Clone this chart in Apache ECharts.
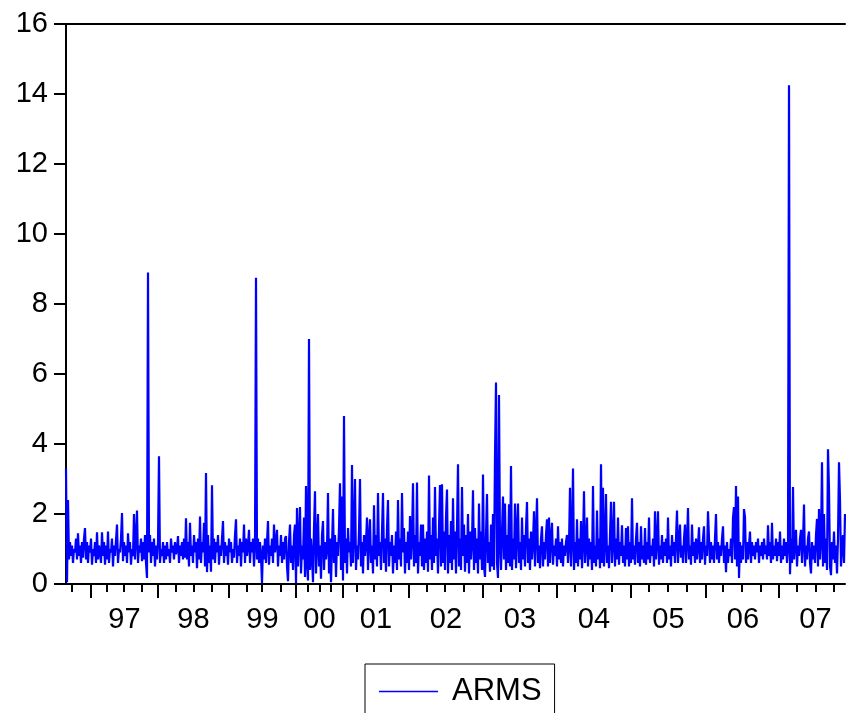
<!DOCTYPE html>
<html>
<head>
<meta charset="utf-8">
<script src="https://cdn.jsdelivr.net/npm/echarts@6/dist/echarts.min.js"></script>
<style>
html,body{margin:0;padding:0;background:#fff;}
#chart{width:846px;height:713px;}
</style>
</head>
<body>
<div id="chart"></div>
<script>
// ARMS series, observation-ordered (one value per plotted step)
const armsValues = [
3.3,0.05,2.4,0.7,1.2,0.8,1.1,0.6,1.0,0.9,1.3,0.7,1.45,0.8,1.1,0.6,1.2,0.75,1.3,1.6,
0.7,1.2,0.6,1.1,0.9,1.3,0.55,1.0,0.8,1.2,0.6,1.48,0.7,1.1,0.9,0.6,1.48,0.8,1.2,0.55,
1.1,0.7,1.5,0.6,1.0,0.9,1.3,0.5,1.1,0.8,1.25,1.7,0.6,1.0,0.9,1.3,2.03,0.65,1.2,0.8,
1.1,0.6,1.45,0.9,1.2,0.55,1.0,0.8,2.0,0.7,1.3,2.1,0.6,1.1,0.9,1.3,0.65,1.2,0.7,1.4,
0.6,0.17,8.9,0.9,1.4,0.6,1.2,0.8,1.3,0.5,1.1,0.7,1.2,3.65,0.6,1.0,0.8,1.2,0.6,1.1,
0.7,1.2,0.8,1.0,0.6,1.3,0.9,1.1,0.7,1.2,0.85,1.0,1.37,0.6,1.1,0.8,1.2,0.7,1.3,0.75,
1.88,0.7,1.2,0.5,1.75,0.8,1.1,0.6,1.4,0.9,1.2,0.45,1.3,0.7,1.93,0.6,1.2,0.9,1.75,0.5,
3.17,0.34,1.4,0.6,1.1,0.35,2.82,0.7,1.3,0.6,1.2,0.9,1.4,0.55,1.1,0.8,1.3,1.8,0.6,1.2,
0.8,1.1,0.55,1.3,0.9,1.2,0.6,1.0,0.75,1.4,1.85,0.6,1.1,0.8,1.3,0.5,1.2,0.9,1.7,0.6,
1.3,0.8,1.1,1.55,0.6,1.2,0.9,1.3,0.5,1.1,8.75,0.7,1.3,0.6,1.2,0.8,0.03,1.1,0.7,1.3,
0.6,1.2,1.8,0.55,1.1,0.8,1.3,0.6,1.7,0.9,1.2,1.55,0.5,1.1,0.8,1.4,0.6,1.2,0.7,1.3,
1.37,0.5,0.08,1.2,1.7,0.6,1.1,0.4,1.4,1.7,0.03,2.17,0.5,1.3,2.2,0.3,1.1,0.7,1.9,0.2,
2.8,0.6,0.1,7.0,0.4,1.3,0.8,0.05,1.6,2.65,0.3,1.2,2.0,0.5,1.1,0.15,1.4,1.8,0.4,1.2,
0.7,1.0,2.6,0.3,1.3,0.05,1.1,2.14,0.6,1.4,0.2,1.2,0.8,1.6,2.88,0.4,2.5,0.1,4.8,0.6,
1.3,0.3,1.6,0.9,1.2,0.5,3.4,0.6,1.4,3.0,0.4,1.1,0.7,1.5,3.0,0.5,1.2,0.3,1.4,0.8,
1.2,1.9,0.4,1.3,1.85,0.6,1.1,0.3,2.25,0.7,1.4,0.5,2.6,0.8,1.2,0.4,1.5,2.6,0.6,1.3,
0.35,1.6,2.4,0.5,1.2,0.8,1.4,0.3,1.1,0.6,1.5,0.4,2.4,0.7,1.3,0.5,2.6,0.9,1.6,0.3,
1.2,0.6,1.5,0.4,1.94,0.7,1.3,2.88,0.5,1.4,0.6,2.9,0.3,1.2,0.8,1.7,0.5,1.7,0.4,1.3,
0.6,1.5,0.35,3.1,0.7,1.4,0.4,1.9,0.6,2.77,0.8,1.3,0.3,1.6,2.83,0.5,2.85,0.6,1.5,0.4,
1.9,2.7,0.3,1.4,0.6,1.8,0.4,2.45,0.7,1.5,0.3,1.6,3.42,0.5,1.3,0.4,2.77,0.8,1.7,0.35,
1.4,0.6,2.0,0.3,1.5,0.7,1.2,2.68,0.4,1.6,0.6,1.3,0.3,2.3,0.7,1.5,0.4,3.13,0.5,0.2,
1.4,2.57,0.6,1.2,0.35,1.7,0.5,2.0,0.4,3.65,5.76,0.6,0.17,5.4,1.1,0.4,1.5,2.5,0.7,2.3,
0.4,1.4,0.6,2.28,0.5,3.37,0.4,1.3,0.7,2.3,0.45,1.5,2.3,0.6,1.2,0.4,1.9,0.7,1.4,0.5,
1.6,2.34,0.6,1.3,0.4,1.5,0.7,1.2,2.08,0.5,1.4,2.45,0.6,1.1,0.45,1.3,1.65,0.5,1.2,0.7,
1.4,1.85,0.5,1.9,0.6,1.3,1.75,0.55,1.1,0.8,1.3,0.5,1.65,0.7,1.2,0.6,1.3,0.5,1.1,0.8,
1.2,1.4,0.6,1.1,2.75,0.5,1.3,3.3,0.4,1.2,0.6,1.85,0.5,1.3,0.7,1.8,0.45,1.2,2.65,0.6,
1.1,1.9,0.5,1.3,0.7,1.2,0.4,2.8,0.6,1.1,0.5,2.1,0.7,1.3,0.45,3.42,0.6,2.75,0.5,1.2,
2.57,0.6,1.1,0.45,1.4,2.35,0.6,1.2,2.35,0.5,1.3,0.7,1.9,0.55,1.2,0.8,1.68,0.6,1.1,0.5,
1.6,0.7,1.65,0.5,1.2,0.6,2.45,0.7,1.1,0.55,1.3,1.75,0.6,1.2,0.5,1.65,0.7,1.1,0.6,1.6,
0.55,1.2,0.7,1.9,0.6,1.1,0.8,1.3,0.5,2.08,0.7,1.2,2.08,0.55,1.1,0.7,1.4,0.6,1.2,0.8,
1.3,0.6,1.9,0.7,1.1,0.5,1.4,0.8,1.2,0.6,1.3,2.1,0.6,1.2,1.7,0.75,1.1,0.6,1.3,1.7,
0.6,1.2,2.17,0.7,1.1,0.55,1.7,0.8,1.2,0.6,1.3,0.7,1.1,1.62,0.6,1.2,0.7,1.3,1.65,0.55,
1.1,0.8,2.08,1.3,0.6,1.2,0.7,1.1,0.6,1.3,2.0,0.7,1.2,0.6,1.1,0.8,1.3,1.65,0.6,1.1,
0.34,1.2,0.6,1.0,0.8,1.3,0.6,1.9,2.2,0.7,2.8,0.5,2.5,0.17,1.2,0.6,1.1,0.7,2.14,1.9,
0.6,1.2,0.7,1.1,1.5,0.6,1.2,0.8,1.1,0.7,1.2,0.9,1.3,0.6,1.1,0.8,1.2,0.7,1.3,0.85,
1.1,0.7,1.68,0.8,1.2,0.6,1.75,0.7,1.1,0.8,1.3,0.65,1.2,0.8,1.5,0.6,1.1,0.7,1.3,0.8,
1.2,0.6,1.0,14.25,0.28,1.3,0.6,2.77,0.7,1.2,1.55,0.5,1.1,0.8,1.3,1.55,0.6,1.2,2.27,0.5,
1.1,0.7,1.3,1.5,0.6,0.3,1.2,0.7,1.1,0.6,1.4,1.86,0.5,2.14,0.7,1.2,3.48,0.5,2.0,0.6,
1.3,0.4,3.85,2.7,0.5,0.25,1.2,0.7,1.5,0.6,1.1,0.3,1.3,3.48,2.4,0.5,1.1,1.4,0.6,2.0
];
// Year boundaries (observation positions) and quarter marks
const yearTickPos = [25,92,163,230,277,343,417,491,565,640,713];
const quarterTickPos = [6,41,58,76,110,128,146,181,196,215,242,254,265,291,308,325,361,379,398,435,454,473,509,527,546,583,602,621,657,676,695,731,750,768];
const yearLabelPos = [58.5,127.5,196.5,253.5,310,380,454,528,602.5,677,749.5];
const yearLabels = ['97','98','99','00','01','02','03','04','05','06','07'];
const yMin = 0, yMax = 16, yStep = 2;
const seriesName = 'ARMS';

const xMax = armsValues.length - 1;
const FONT = "'Liberation Sans', Arial, Helvetica, sans-serif";

const chart = echarts.init(document.getElementById('chart'), null, {renderer: 'canvas'});
chart.setOption({
  animation: false,
  backgroundColor: '#ffffff',
  grid: {left: 66, right: 1, top: 24, bottom: 129, containLabel: false},
  legend: {
    data: [seriesName],
    left: 365, top: 664,
    orient: 'horizontal',
    icon: 'rect',
    itemWidth: 59, itemHeight: 1.5,
    borderColor: '#000', borderWidth: 1,
    padding: [12, 13, 14, 14],
    textStyle: {fontFamily: FONT, fontSize: 31, color: '#000', padding: [0, 0, 0, 9]}
  },
  xAxis: [
    {
      type: 'value', min: 0, max: xMax, position: 'bottom',
      axisLine: {show: true, onZero: false, lineStyle: {color: '#000', width: 2}},
      axisTick: {show: true, customValues: yearTickPos, length: 14, lineStyle: {color: '#000', width: 2}},
      axisLabel: {
        show: true, customValues: yearLabelPos, margin: 21,
        fontFamily: FONT, fontSize: 29, color: '#000',
        formatter: function (v) {
          let best = -1, bd = 1e9;
          yearLabelPos.forEach(function (p, k) { const d = Math.abs(p - v); if (d < bd) { bd = d; best = k; } });
          return bd < 1 ? yearLabels[best] : '';
        }
      },
      splitLine: {show: false}
    },
    {
      type: 'value', min: 0, max: xMax, position: 'bottom',
      axisLine: {show: false, onZero: false},
      axisTick: {show: true, customValues: quarterTickPos, length: 8, lineStyle: {color: '#000', width: 2}},
      axisLabel: {show: false},
      splitLine: {show: false}
    },
    {
      type: 'value', min: 0, max: xMax, position: 'top',
      axisLine: {show: true, onZero: false, lineStyle: {color: '#000', width: 2}},
      axisTick: {show: false},
      axisLabel: {show: false},
      splitLine: {show: false}
    }
  ],
  yAxis: {
    type: 'value', min: yMin, max: yMax, interval: yStep,
    axisLine: {show: true, onZero: false, lineStyle: {color: '#000', width: 2}},
    axisTick: {show: true, length: 12, lineStyle: {color: '#000', width: 2}},
    axisLabel: {margin: 18, fontFamily: FONT, fontSize: 29, color: '#000'},
    splitLine: {show: false}
  },
  series: [{
    name: seriesName,
    type: 'line',
    xAxisIndex: 0,
    data: armsValues.map(function (v, i) { return [i, v]; }),
    showSymbol: false,
    symbol: 'none',
    sampling: null,
    lineStyle: {color: '#0000FF', width: 2.2},
    itemStyle: {color: '#0000FF'}
  }]
});
</script>
</body>
</html>
